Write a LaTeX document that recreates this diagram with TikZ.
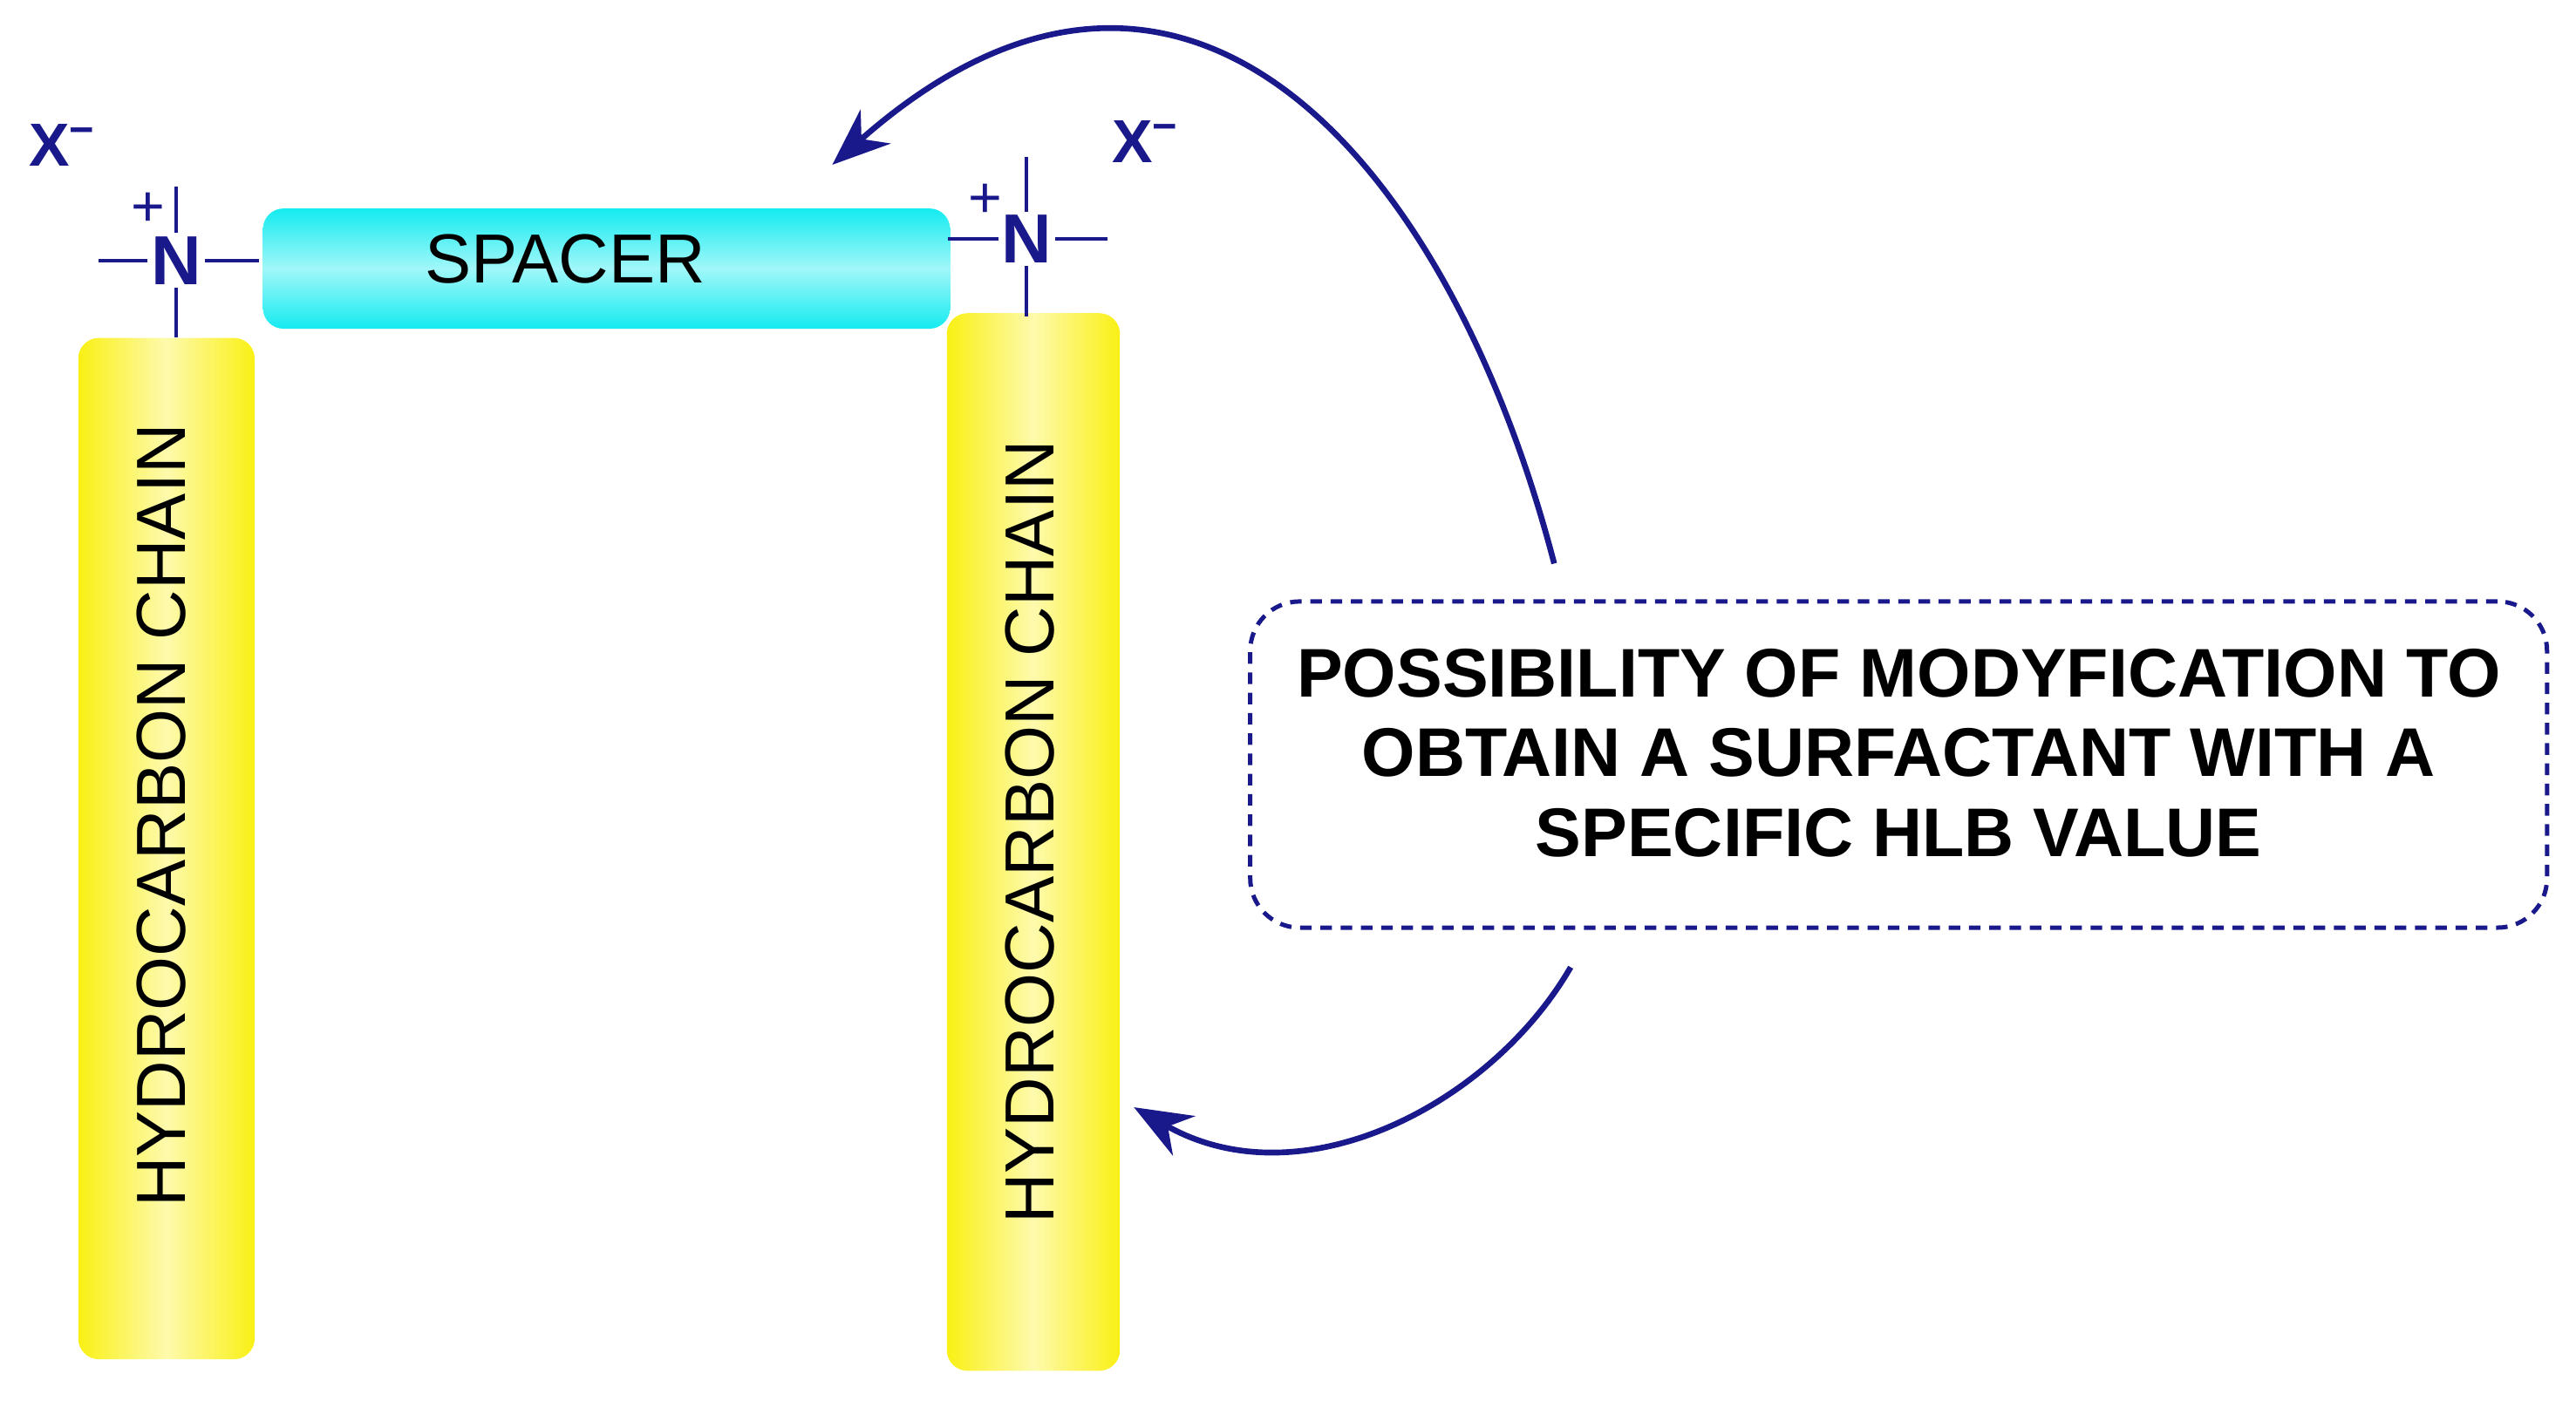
\documentclass[tikz,border=0pt]{standalone}
\usepackage{fontspec}
\setmainfont{Liberation Sans}
\usetikzlibrary{arrows.meta}
\definecolor{navy}{RGB}{25,25,140}
\definecolor{ylw}{RGB}{250,240,20}
\definecolor{cyn}{RGB}{20,235,240}
\begin{document}
\begin{tikzpicture}[x=0.02cm,y=-0.02cm,
 bar/.style={rounded corners=0.25cm,left color=ylw,right color=ylw,middle color=ylw!35},
 bond/.style={navy,line width=1.2pt},
 atom/.style={navy,font=\fontsize{24}{28}\selectfont\bfseries,inner sep=1pt},
 lbl/.style={font=\fontsize{24}{28}\selectfont},
 arr/.style={navy,line width=2pt,-{Stealth[length=0.7cm,width=0.55cm]}}]
\useasboundingbox (0,0) rectangle (1563,850);
% bars
\node[bar,minimum width=2.14cm,minimum height=12.4cm,inner sep=0] (lbar) at (101,515) {};
\node[lbl,rotate=90] (ltxt) at (98,495) {HYDROCARBON CHAIN};
\node[bar,minimum width=2.1cm,minimum height=12.84cm,inner sep=0] (rbar) at (627,511) {};
\node[lbl,rotate=90] (rtxt) at (625,505) {HYDROCARBON CHAIN};
\node[rounded corners=0.25cm,top color=cyn,bottom color=cyn,middle color=white!60!cyn,minimum width=8.34cm,minimum height=1.46cm,inner sep=0] (sp) at (368,163) {};
\node[lbl] (sptxt) at (343,157) {SPACER};
% left N
\node[atom] (n1) at (107,158) {N};
\draw[bond] (60,158) -- (n1.west);
\draw[bond] (n1.east) -- (157,158);
\draw[bond] (n1.north) -- (107,113);
\draw[bond] (n1.south) -- (107,205);
\node[navy,font=\fontsize{20}{24}\selectfont] (p1) at (90,127) {+};
\node[atom,font=\fontsize{21}{24}\selectfont\bfseries] (x1) at (38,88) {X\textsuperscript{−}};
% right N
\node[atom] (n2) at (623,145) {N};
\draw[bond] (575,145) -- (n2.west);
\draw[bond] (n2.east) -- (672,145);
\draw[bond] (n2.north) -- (623,95);
\draw[bond] (n2.south) -- (623,192);
\node[navy,font=\fontsize{20}{24}\selectfont] (p2) at (598,122) {+};
\node[atom,font=\fontsize{21}{24}\selectfont\bfseries] (x2) at (695,86) {X\textsuperscript{−}};
% box
\node[draw=navy,line width=1.5pt,dash pattern=on 4pt off 3pt,rounded corners=0.6cm,minimum width=15.74cm,minimum height=3.96cm] (box) at (1152,464) {};
\node[align=center,font=\fontsize{23.8}{27.5}\selectfont\bfseries] (boxtxt) at (1152,457)
 {POSSIBILITY OF MODYFICATION TO\\OBTAIN A SURFACTANT WITH A\\SPECIFIC HLB VALUE};
\coordinate (a1) at (943,342);
\coordinate (a1e) at (505,100);
\draw[arr] (a1) .. controls (880,100) and (720,-90) .. (a1e);
\coordinate (a2) at (953,587);
\coordinate (a2e) at (688,672);
\draw[arr] (a2) .. controls (905,670) and (790,730) .. (a2e);
\end{tikzpicture}
\end{document}
